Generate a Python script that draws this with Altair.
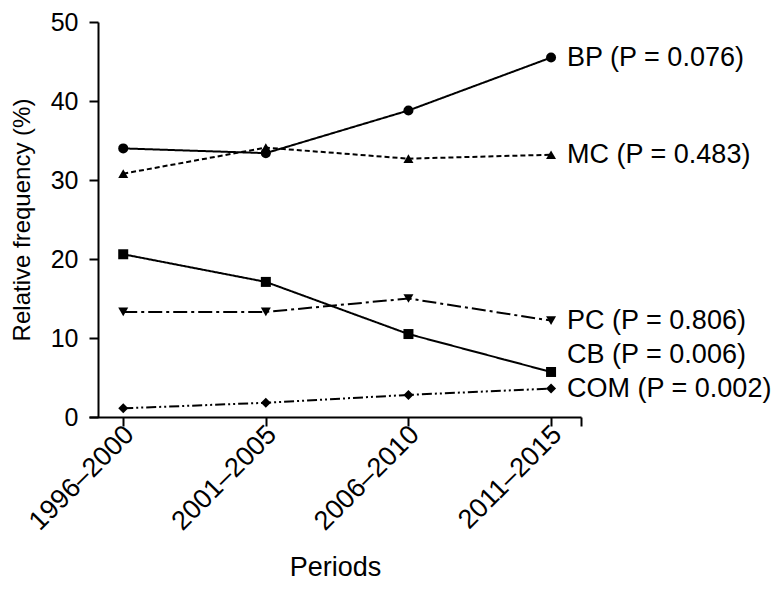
import json
import altair as alt
import pandas as pd

periods = ["1996–2000", "2001–2005", "2006–2010", "2011–2015"]
series = ["BP", "MC", "PC", "CB", "COM"]
bp = [34.0, 33.4, 38.8, 45.5]
mc = [30.8, 34.1, 32.7, 33.2]
pc = [13.3, 13.3, 15.0, 12.2]
cb = [20.6, 17.1, 10.5, 5.7]
com = [1.1, 1.8, 2.8, 3.6]
p_values = ["0.076", "0.483", "0.806", "0.006", "0.002"]
label_y = [45.5, 33.2, 12.2, 7.8, 3.6]

values = {"BP": bp, "MC": mc, "PC": pc, "CB": cb, "COM": com}
rows = []
for s in series:
    for i, v in enumerate(values[s]):
        rows.append({"series": s, "idx": i, "period": periods[i], "value": v})
df = pd.DataFrame(rows)

lab = pd.DataFrame({
    "series": series,
    "idx": [len(periods) - 1] * len(series),
    "y": label_y,
    "text": [f"{s} (P = {p})" for s, p in zip(series, p_values)],
})

FONT = "Liberation Sans"
x_scale = alt.Scale(domain=[-0.24, 3.21], nice=False, zero=False)
y_scale = alt.Scale(domain=[0, 50], nice=False)
dash_scale = alt.Scale(domain=series,
                       range=[[1, 0], [5, 3], [14, 4, 3, 4], [1, 0], [10, 3, 2, 3, 2, 3]])
shape_scale = alt.Scale(domain=series,
                        range=["circle", "triangle-up", "triangle-down", "square", "diamond"])

label_expr = json.dumps(periods) + "[datum.value] || ''"

x_enc = alt.X("idx:Q", scale=x_scale, title="Periods",
              axis=alt.Axis(values=[0, 1, 2, 3, 3.21], labelExpr=label_expr,
                            labelAngle=315, labelAlign="right", labelBaseline="middle",
                            labelFontSize=27, titleFontSize=27, labelPadding=4,
                            labelOffset=6, titlePadding=20, tickSize=9, grid=False))
y_enc = alt.Y("value:Q", scale=y_scale, title="Relative frequency (%)",
              axis=alt.Axis(values=list(range(0, 51, 5)),
                            labelExpr="datum.value % 10 == 0 ? datum.label : ''",
                            labelFontSize=25, titleFontSize=24, offset=-9,
                            tickSize=9, labelPadding=11, titlePadding=16, grid=False))

lines = alt.Chart(df).mark_line(color="black", strokeWidth=2).encode(
    x=x_enc, y=y_enc,
    detail="series:N",
    strokeDash=alt.StrokeDash("series:N", scale=dash_scale, legend=None),
)
points = alt.Chart(df).mark_point(filled=True, color="black", size=100, opacity=1).encode(
    x="idx:Q", y="value:Q",
    shape=alt.Shape("series:N", scale=shape_scale, legend=None),
)
texts = alt.Chart(lab).mark_text(align="left", baseline="middle", dx=16,
                                 fontSize=27, font=FONT, color="black").encode(
    x="idx:Q", y="y:Q", text="text:N",
)

chart = alt.layer(lines, points, texts).properties(
    width=492, height=395,
    autosize=alt.AutoSizeParams(type="none"),
    padding={"left": 81, "top": 14, "right": 193, "bottom": 168},
).configure_view(stroke=None).configure_axis(
    domainColor="black", tickColor="black", domainWidth=2, tickWidth=2,
    labelColor="black", titleColor="black", labelFont=FONT, titleFont=FONT,
    titleFontWeight="normal",
)

chart.save("out.html", embed_options={"renderer": "svg", "actions": False})
